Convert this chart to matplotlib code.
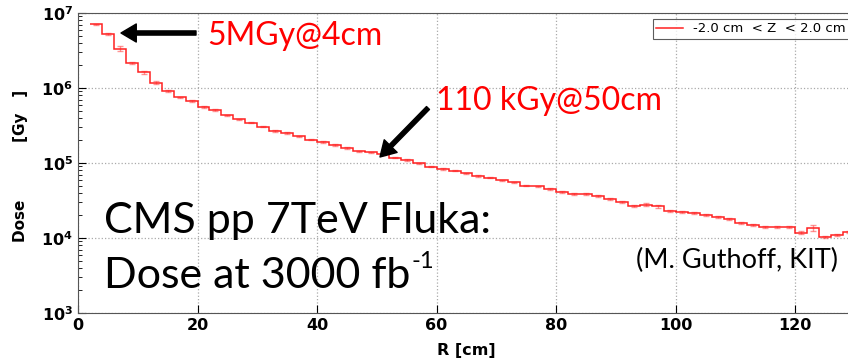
import numpy as np
import matplotlib
matplotlib.use("Agg")
import matplotlib.pyplot as plt

# Radial dose profile, -2 cm < Z < 2 cm, 2 cm bins from R = 2 cm to 130 cm
r_edges = np.arange(2, 131, 2)
dose_gy = [
    7.1e6, 5.2e6, 3.35e6, 2.17e6, 1.62e6, 1.18e6, 9.2e5, 7.5e5, 6.7e5, 5.6e5,
    5.1e5, 4.33e5, 3.82e5, 3.45e5, 3.05e5, 2.67e5, 2.51e5, 2.27e5, 2.05e5,
    1.9e5, 1.74e5, 1.58e5, 1.43e5, 1.39e5, 1.31e5, 1.18e5, 1.10e5, 9.9e4, 8.9e4, 8.3e4,
    7.9e4, 7.3e4, 6.7e4, 6.4e4, 5.9e4, 5.5e4, 5.0e4, 4.9e4, 4.5e4,
    4.15e4, 3.86e4, 3.82e4, 3.63e4, 3.31e4, 2.99e4, 2.64e4, 2.78e4, 2.64e4, 2.29e4, 2.22e4, 2.18e4,
    2.05e4, 1.92e4, 1.81e4, 1.58e4, 1.50e4, 1.39e4, 1.39e4, 1.40e4, 1.18e4, 1.36e4, 1.02e4, 1.09e4, 1.19e4,
]
# relative statistical uncertainty per bin
rel_err = [
    0.02, 0.03, 0.08, 0.03, 0.04, 0.04, 0.03, 0.02, 0.03, 0.02,
    0.02, 0.02, 0.02, 0.02, 0.02, 0.02, 0.02, 0.02, 0.02,
    0.02, 0.02, 0.02, 0.02, 0.02, 0.02, 0.02, 0.02, 0.02, 0.02, 0.02,
    0.02, 0.02, 0.02, 0.02, 0.02, 0.02, 0.02, 0.02, 0.02,
    0.03, 0.03, 0.03, 0.03, 0.03, 0.03, 0.03, 0.05, 0.04, 0.03, 0.03, 0.03,
    0.03, 0.03, 0.03, 0.03, 0.03, 0.03, 0.03, 0.04, 0.05, 0.08, 0.03, 0.03, 0.03,
]
legend_label = "-2.0 cm  < Z  < 2.0 cm"

plt.rcParams["mathtext.default"] = "bf"
W, H = 848, 358
fig = plt.figure(figsize=(W / 100, H / 100), dpi=100)
ax = fig.add_axes([78 / W, 45 / H, 777 / W, 300 / H])

dose = np.array(dose_gy)
centers = 0.5 * (r_edges[:-1] + r_edges[1:])
ax.stairs(dose, r_edges, baseline=None, color="#ff2020", lw=1.1,
          label=legend_label, zorder=3)
ax.errorbar(centers, dose, yerr=dose * np.array(rel_err), fmt="none",
            ecolor="#ff4040", elinewidth=1.0, capsize=2.5, alpha=0.55, zorder=2)

ax.set_yscale("log")
ax.set_ylim(1e3, 1e7)
ax.set_xlim(0, 130)
ax.set_xticks([0, 20, 40, 60, 80, 100, 120])
ax.grid(True, which="major", ls=":", color="#aaaaaa", lw=0.9)
ax.tick_params(direction="in", which="both", labelsize=11.5)
ax.tick_params(which="major", length=6)
ax.tick_params(which="minor", length=3)
for lab in ax.get_xticklabels() + ax.get_yticklabels():
    lab.set_fontweight("bold")
ax.spines["right"].set_visible(False)
for s in ax.spines.values():
    s.set_color("#555555")

ax.set_xlabel("R [cm]", fontsize=11.5, fontweight="bold")
ax.xaxis.set_label_coords(0.5, -0.1)
ax.set_ylabel("Dose           [Gy   ]", fontsize=11, fontweight="bold")
ax.yaxis.set_label_coords(-0.064, 0.49)

leg = ax.legend(loc="upper right", fontsize=9.5, frameon=True, fancybox=False,
                handlelength=2.0, borderaxespad=0.45, borderpad=0.25)
leg.get_frame().set_edgecolor("#333333")
leg.get_frame().set_linewidth(0.8)

def px(x, y):
    return (x / W, 1 - y / H)

big = ["Lato", "DejaVu Sans"]
fig.text(*px(207, 45), "5MGy@4cm", color="red", fontsize=23, family=big)
fig.text(*px(436, 110), "110 kGy@50cm", color="red", fontsize=23, family=big)
fig.text(*px(104, 233), "CMS pp 7TeV Fluka:", color="black", fontsize=31, family=big)
line2 = fig.text(*px(104, 288), "Dose at 3000 fb", color="black", fontsize=31, family=big)
fig.canvas.draw()
bb = line2.get_window_extent()
fig.text((bb.x1 + 1) / W, 1 - 268 / H, "-1", color="black", fontsize=17, family=big)
fig.text(*px(636, 268), "(M. Guthoff, KIT)", color="black", fontsize=19.5, family=big)

arrow = dict(facecolor="black", edgecolor="black", width=3, headwidth=13, headlength=11)
ax.annotate("", xy=(121, H - 33), xycoords="figure pixels",
            xytext=(196, H - 33), textcoords="figure pixels", arrowprops=arrow)
ax.annotate("", xy=(380, H - 157), xycoords="figure pixels",
            xytext=(428, H - 108), textcoords="figure pixels", arrowprops=arrow)

fig.savefig("out.png", dpi=100)
